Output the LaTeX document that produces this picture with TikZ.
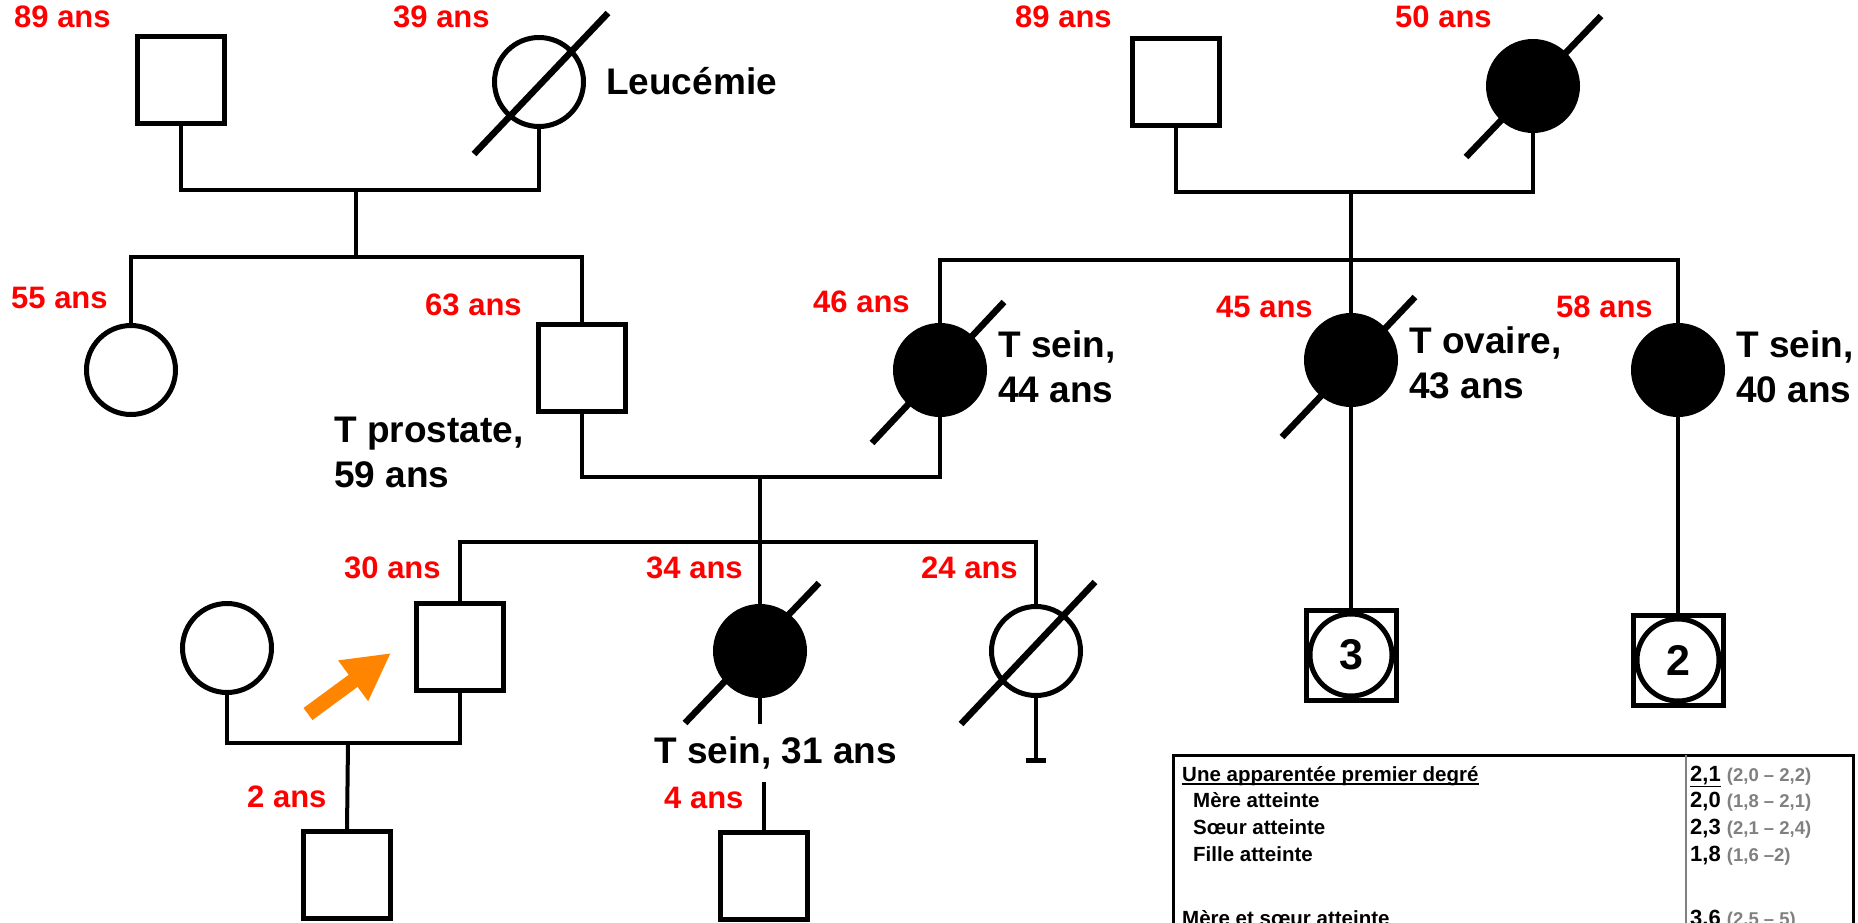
\documentclass[tikz,border=0pt]{standalone}
\usepackage{fontspec}
\setmainfont{Liberation Sans}
\usetikzlibrary{arrows.meta}
\definecolor{agered}{RGB}{255,0,0}
\definecolor{arroworange}{RGB}{255,133,0}
\definecolor{cigray}{RGB}{128,128,128}

\begin{document}
\begin{tikzpicture}[x=1pt,y=-1pt,
  male/.style={draw,line width=5pt,minimum size=87pt,inner sep=0pt},
  female/.style={draw,circle,line width=5pt,minimum size=89pt,inner sep=0pt},
  affected/.style={fill=black},
  link/.style={line width=4pt},
  dead/.style={line width=6.5pt},
  age/.style={text=agered,font=\fontsize{31}{37}\selectfont\bfseries,anchor=base west,inner sep=0pt},
  note/.style={font=\fontsize{37}{45}\selectfont\bfseries,align=left,anchor=north west,inner sep=0pt},
  tab/.style={font=\fontsize{20.5}{25}\selectfont\bfseries,anchor=base west,inner sep=0pt}]
				\useasboundingbox (0,0) rectangle (1858,923);
				\clip (0,0) rectangle (1858,923);
				\fill[white] (0,0) rectangle (1858,923);
				
				% grands-parents paternels
				\node[male] (gpa1) at (181,80) {};
				\node[female] (gma1) at (539,82) {};
				\draw[dead] ([shift={(-65,72)}]gma1.center) -- ([shift={(69,-69)}]gma1.center);
				\node[age] (agegpa1) at (14,28) {89 ans};
				\node[age] (agegma1) at (393,28) {39 ans};
				\node[note,anchor=base west] (leuc) at (606,95) {Leucémie};
				\coordinate (cp1) at (356,190);
				\coordinate (sb1) at (356,257);
				\draw[link] (gpa1.south) |- (cp1) -| (gma1.south);
				\draw[link] (cp1) -- (sb1);
				
				% grands-parents maternels
				\node[male] (gpa2) at (1176,82) {};
				\node[female,affected] (gma2) at (1533,86) {};
				\draw[dead] ([shift={(-67,71)}]gma2.center) -- ([shift={(68,-70)}]gma2.center);
				\node[age] (agegpa2) at (1015,28) {89 ans};
				\node[age] (agegma2) at (1395,28) {50 ans};
				\coordinate (cp2) at (1351,192);
				\coordinate (sb2) at (1351,260);
				\draw[link] (gpa2.south) |- (cp2) -| (gma2.south);
				\draw[link] (cp2) -- (sb2);
				
				% parents, oncles et tantes
				\node[female] (aunt55) at (131,370) {};
				\node[male] (father) at (582,368) {};
				\node[female,affected] (mother) at (940,370) {};
				\node[female,affected] (aunt45) at (1351,360) {};
				\node[female,affected] (aunt58) at (1678,370) {};
				\draw[dead] ([shift={(-68,73)}]mother.center) -- ([shift={(64,-68)}]mother.center);
				\draw[dead] ([shift={(-69,77)}]aunt45.center) -- ([shift={(64,-63)}]aunt45.center);
				\draw[link] (aunt55.north) |- (sb1) -| (father.north);
				\draw[link] (mother.north) |- (sb2) -| (aunt58.north);
				\draw[link] (sb2) -- (aunt45.north);
				\node[age] (ageaunt55) at (11,308) {55 ans};
				\node[age] (agefather) at (425,315) {63 ans};
				\node[age] (agemother) at (813,312) {46 ans};
				\node[age] (ageaunt45) at (1216,317) {45 ans};
				\node[age] (ageaunt58) at (1556,317) {58 ans};
				\node[note] (prost) at (334,416.5) {T prostate,\\59 ans};
				\node[note] (sein44) at (998,330.5) {T sein,\\44 ans};
				\node[note] (ovaire) at (1409,326.5) {T ovaire,\\43 ans};
				\node[note] (sein40) at (1736,330.5) {T sein,\\40 ans};
				
				% cousins
				\node[male,minimum size=90pt] (kids3) at (1351,655) {};
				\node[female,minimum size=82pt,font=\fontsize{43}{50}\selectfont\bfseries] (kids3n) at (kids3) {3};
				\node[male,minimum size=90pt] (kids2) at (1678,660) {};
				\node[female,minimum size=82pt,font=\fontsize{43}{50}\selectfont\bfseries] (kids2n) at (kids2) {2};
				\draw[link] (aunt45.south) -- (kids3.north);
				\draw[link] (aunt58.south) -- (kids2.north);
				
				% fratrie du proposant
				\coordinate (cp3) at (760,477);
				\coordinate (sb3) at (760,542);
				\draw[link] (father.south) |- (cp3) -| (mother.south);
				\node[male] (proband) at (460,647) {};
				\node[female,affected] (sis34) at (760,651) {};
				\node[female] (sis24) at (1036,651) {};
				\draw[dead] ([shift={(-75,72)}]sis34.center) -- ([shift={(59,-68)}]sis34.center);
				\draw[dead] ([shift={(-75,73)}]sis24.center) -- ([shift={(59,-69)}]sis24.center);
				\draw[link] (cp3) -- (sb3) -- (sis34.north);
				\draw[link] (proband.north) |- (sb3) -| (sis24.north);
				\node[age] (ageproband) at (344,578) {30 ans};
				\node[age] (agesis34) at (646,578) {34 ans};
				\node[age] (agesis24) at (921,578) {24 ans};
				\coordinate (nochild) at (1036,760);
				\draw[link] (sis24.south) -- (nochild);
				\draw[line width=5pt] ([xshift=-10pt]nochild) -- ([xshift=10pt]nochild);
				
				% proposant et conjointe
				\node[female] (spouse) at (227,648) {};
				\coordinate (cp4) at (348,743);
				\node[male] (son) at (347,875) {};
				\draw[link] (spouse.south) |- (cp4) -| (proband.south);
				\draw[link] (cp4) -- (son.north);
				\node[age] (ageson) at (247,807) {2 ans};
				\coordinate (ptail) at (308,714);
				\coordinate (ptip) at (391,653);
				\draw[arroworange,line width=15pt,-{Triangle[length=47pt,width=47pt]}] (ptail) -- (ptip);
				
				% enfant de la soeur
				\node[note,anchor=base west] (sein31) at (654,763) {T sein, 31 ans};
				\node[male] (son34) at (764,876) {};
				\coordinate (sis34end) at (760,724);
				\coordinate (son34top) at (764,782);
				\draw[link] (sis34.south) -- (sis34end);
				\draw[link] (son34top) -- (son34.north);
				\node[age] (ageson34) at (664,808) {4 ans};
				
				% tableau des risques
				\draw[line width=3pt] (1173,940) -- (1173,755) -- (1853,755) -- (1853,940);
				\draw[cigray,line width=2pt] (1686,755) -- (1686,940);
				\node[tab] (rowA) at (1182,781) {Une apparentée premier degré};
				\draw[line width=1.5pt] ([yshift=-3pt]rowA.base west) -- ([yshift=-3pt]rowA.base east);
				\node[tab] (rowB) at (1193,807) {Mère atteinte};
				\node[tab] (rowC) at (1193,834) {Sœur atteinte};
				\node[tab] (rowD) at (1193,861) {Fille atteinte};
				\node[tab] (rowE) at (1182,925) {Mère et sœur atteinte};
				\node[tab] (valA) at (1690,781) {\fontsize{22}{25}\selectfont\underline{2,1} {\color{cigray}\fontsize{18.5}{22}\selectfont(2,0 – 2,2)}};
				\node[tab] (valB) at (1690,807) {\fontsize{22}{25}\selectfont 2,0 {\color{cigray}\fontsize{18.5}{22}\selectfont(1,8 – 2,1)}};
				\node[tab] (valC) at (1690,834) {\fontsize{22}{25}\selectfont 2,3 {\color{cigray}\fontsize{18.5}{22}\selectfont(2,1 – 2,4)}};
				\node[tab] (valD) at (1690,861) {\fontsize{22}{25}\selectfont 1,8 {\color{cigray}\fontsize{18.5}{22}\selectfont(1,6 –2)}};
				\node[tab] (valE) at (1690,925) {\fontsize{22}{25}\selectfont 3,6 {\color{cigray}\fontsize{18.5}{22}\selectfont(2,5 – 5)}};
			\end{tikzpicture}
\end{document}
